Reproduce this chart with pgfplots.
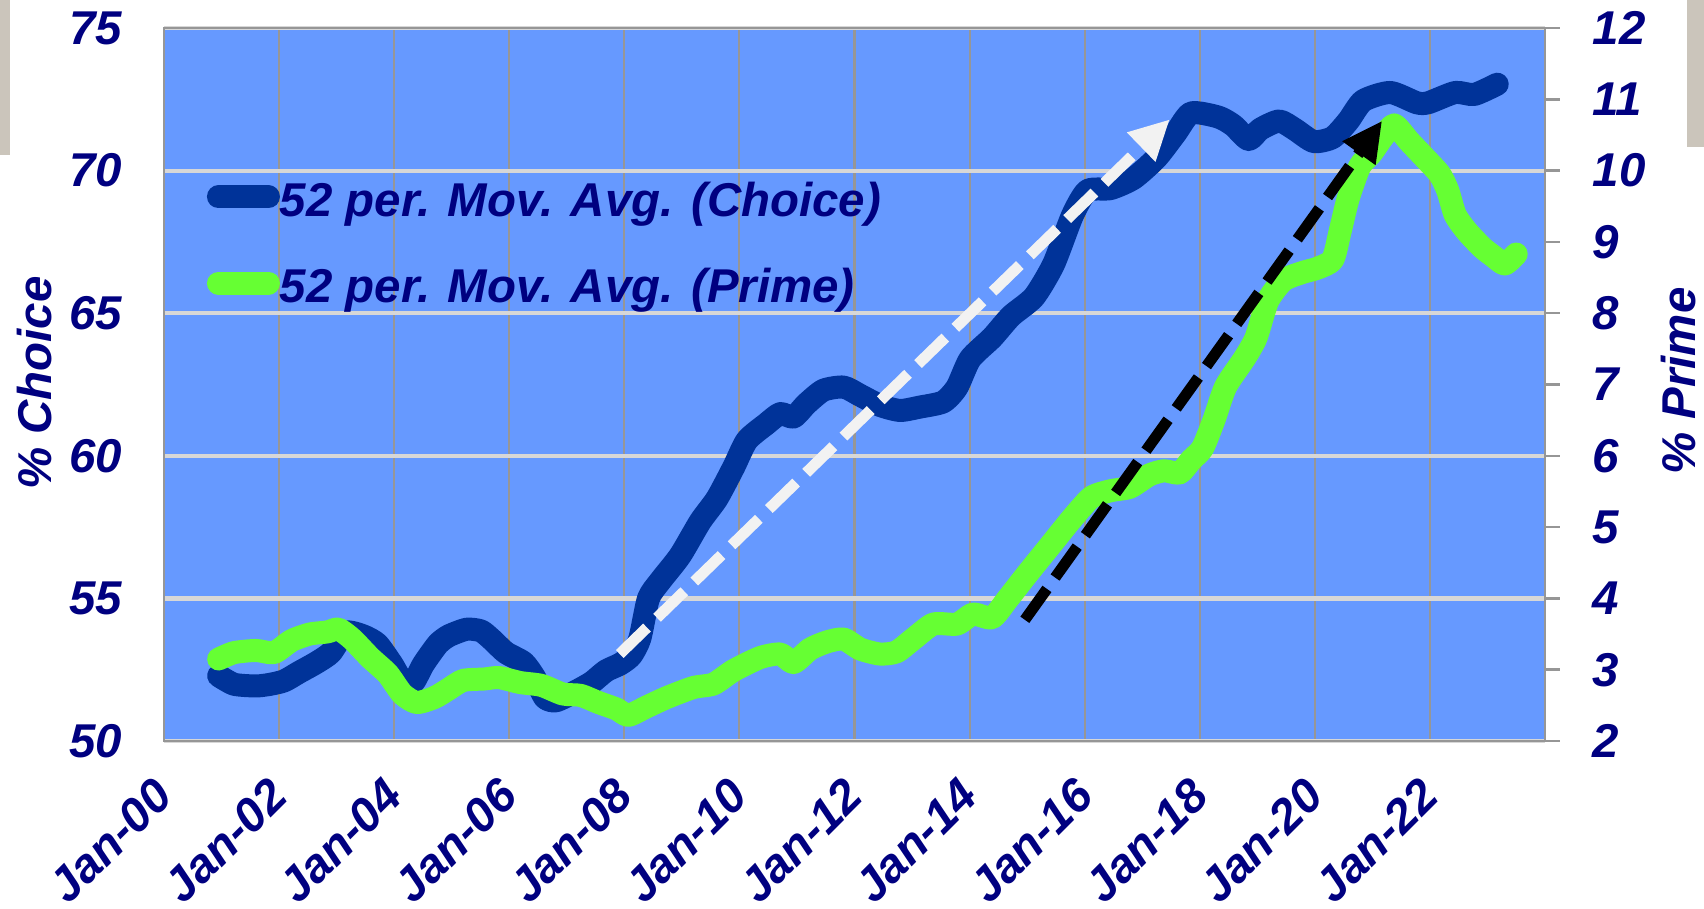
\documentclass[border=0pt]{standalone}
\usepackage{fontspec}
\setmainfont{Liberation Sans}
\usepackage{pgfplots}
\pgfplotsset{compat=1.18}
\usetikzlibrary{arrows.meta}

\definecolor{bgblue}{RGB}{102,153,255}
\definecolor{choiceblue}{RGB}{0,51,153}
\definecolor{primegreen}{RGB}{102,255,51}
\definecolor{navy}{RGB}{0,0,128}
\definecolor{vgrid}{RGB}{150,150,150}
\definecolor{hgrid}{RGB}{215,215,215}
\definecolor{sidebar}{RGB}{203,197,187}
\definecolor{arrowwhite}{RGB}{242,242,242}

\newcommand{\chartfont}{\fontsize{13.5}{16}\selectfont\bfseries\itshape}

\pgfplotsset{
  chartbase/.style={
    at={(1.64cm,1.67cm)}, anchor=south west,
    scale only axis, width=13.81cm, height=7.13cm,
    xmin=2000, xmax=2024,
    ticklabel style={font=\chartfont, text=navy},
    /pgf/number format/assume math mode=true,
    axis line style={vgrid, line width=0.7pt},
  }
}

% Choice share, 52-week moving average (%)
\pgfplotstableread{
year choice
2000.95 52.29
2001.22 51.99
2001.60 51.93
2001.85 51.99
2002.09 52.11
2002.34 52.40
2002.65 52.75
2002.90 53.10
2003.15 53.81
2003.46 53.69
2003.71 53.40
2003.96 52.70
2004.14 52.11
2004.33 52.05
2004.51 52.70
2004.76 53.40
2004.95 53.69
2005.26 53.92
2005.51 53.86
2005.69 53.57
2005.94 53.10
2006.25 52.75
2006.44 52.23
2006.62 51.52
2006.81 51.41
2007.12 51.70
2007.43 52.05
2007.68 52.46
2007.93 52.70
2008.12 53.00
2008.27 53.60
2008.42 55.00
2008.62 55.60
2008.97 56.50
2009.32 57.70
2009.61 58.50
2009.90 59.60
2010.13 60.54
2010.47 61.12
2010.71 61.48
2010.94 61.36
2011.17 61.83
2011.46 62.30
2011.81 62.41
2012.10 62.12
2012.44 61.77
2012.79 61.59
2013.14 61.71
2013.54 61.89
2013.78 62.40
2014.01 63.40
2014.39 64.14
2014.72 64.90
2015.12 65.57
2015.46 66.72
2015.79 68.44
2016.05 69.30
2016.45 69.37
2016.85 69.73
2017.25 70.45
2017.58 71.31
2017.85 72.02
2018.32 71.88
2018.58 71.59
2018.85 71.09
2019.05 71.45
2019.38 71.74
2019.65 71.45
2019.98 71.02
2020.31 71.16
2020.58 71.74
2020.84 72.45
2021.31 72.74
2021.77 72.38
2021.97 72.38
2022.44 72.74
2022.77 72.67
2023.17 73.03
}\choicedata

% Prime share, 52-week moving average (%)
\pgfplotstableread{
year prime
2000.95 3.15
2001.22 3.24
2001.60 3.27
2001.91 3.24
2002.22 3.41
2002.53 3.50
2002.84 3.53
2003.03 3.57
2003.27 3.43
2003.58 3.17
2003.89 2.94
2004.14 2.66
2004.39 2.54
2004.70 2.61
2004.95 2.73
2005.20 2.85
2005.57 2.87
2005.82 2.89
2006.19 2.82
2006.56 2.78
2006.93 2.66
2007.24 2.64
2007.55 2.54
2007.86 2.45
2008.07 2.36
2008.39 2.48
2008.74 2.61
2009.20 2.75
2009.55 2.80
2009.90 2.99
2010.36 3.17
2010.71 3.22
2010.94 3.10
2011.23 3.29
2011.52 3.39
2011.81 3.43
2012.10 3.29
2012.44 3.22
2012.73 3.25
2013.02 3.43
2013.37 3.64
2013.78 3.64
2014.06 3.78
2014.39 3.73
2014.66 3.99
2014.99 4.33
2015.39 4.73
2015.79 5.13
2016.12 5.42
2016.45 5.51
2016.79 5.56
2017.12 5.73
2017.38 5.79
2017.65 5.76
2017.85 5.94
2018.05 6.11
2018.25 6.51
2018.45 6.97
2018.78 7.37
2018.98 7.66
2019.18 8.17
2019.45 8.46
2019.78 8.57
2020.04 8.63
2020.31 8.75
2020.44 9.15
2020.58 9.61
2020.78 10.06
2020.98 10.24
2021.18 10.47
2021.38 10.64
2021.64 10.41
2021.91 10.18
2022.17 9.95
2022.31 9.72
2022.44 9.38
2022.64 9.15
2022.91 8.92
2023.10 8.80
2023.30 8.69
2023.50 8.83
}\primedata

\begin{document}
\begin{tikzpicture}
\useasboundingbox (0,0) rectangle (17.04,9.08);
\fill[sidebar] (0,7.53) rectangle (0.10,9.08);
\fill[sidebar] (16.87,7.61) rectangle (17.04,9.08);

% left axis: % Choice
\begin{axis}[chartbase,
  ymin=50, ymax=75, ytick={50,55,...,75},
  xtick={2000,2002,...,2022},
  xticklabels={Jan-00,Jan-02,Jan-04,Jan-06,Jan-08,Jan-10,Jan-12,Jan-14,Jan-16,Jan-18,Jan-20,Jan-22},
  axis background/.style={fill=bgblue},
  xmajorgrids, ymajorgrids,
  major x grid style={vgrid, line width=0.6pt},
  major y grid style={hgrid, line width=1.2pt},
  major tick length=0pt,
  xticklabel style={rotate=45, anchor=east, inner sep=0pt},
  xticklabel shift=0.46cm,
  yticklabel style={anchor=east, inner sep=0pt, xshift=-0.41cm},
  legend style={at={(0.0311,0.784)}, anchor=north west, draw=none, fill=none,
    inner sep=0pt, outer sep=0pt, row sep=0.465cm, font=\chartfont, text=navy,
    nodes={inner sep=0pt}},
  legend cell align=left,
  legend image code/.code={\draw[#1, line cap=round] (0.11cm,0.05cm) -- (0.61cm,0.05cm);},
]
\addplot[choiceblue, line width=0.23cm, line cap=round, line join=round, smooth, tension=0.4] table[x=year, y=choice] {\choicedata};
\addlegendentry{52 per. Mov. Avg. (Choice)}
\addlegendimage{primegreen, line width=0.23cm}
\addlegendentry{52 per. Mov. Avg. (Prime)}
\end{axis}

% right axis: % Prime
\begin{axis}[chartbase,
  ymin=2, ymax=12, ytick={2,3,...,12},
  axis y line*=right, axis x line=none,
  tick align=outside, major tick length=0.15cm,
  tick style={vgrid, line width=0.7pt},
  yticklabel style={anchor=west, inner sep=0pt, xshift=0.32cm},
]
\addplot[primegreen, line width=0.23cm, line cap=round, line join=round, smooth, tension=0.4] table[x=year, y=prime] {\primedata};
\draw[arrowwhite, line width=0.11cm, dash pattern=on 0.38cm off 0.14cm,
  -{Triangle[length=0.4cm, width=0.38cm]}] (axis cs:2007.92,3.22) -- (axis cs:2017.48,10.72);
\draw[black, line width=0.11cm, dash pattern=on 0.38cm off 0.14cm,
  -{Triangle[length=0.4cm, width=0.38cm]}] (axis cs:2014.96,3.70) -- (axis cs:2021.17,10.70);
\end{axis}

\node[rotate=90, font=\chartfont, text=navy] at (0.35,5.25) {\% Choice};
\node[rotate=90, font=\chartfont, text=navy] at (16.79,5.27) {\% Prime};
\end{tikzpicture}
\end{document}
